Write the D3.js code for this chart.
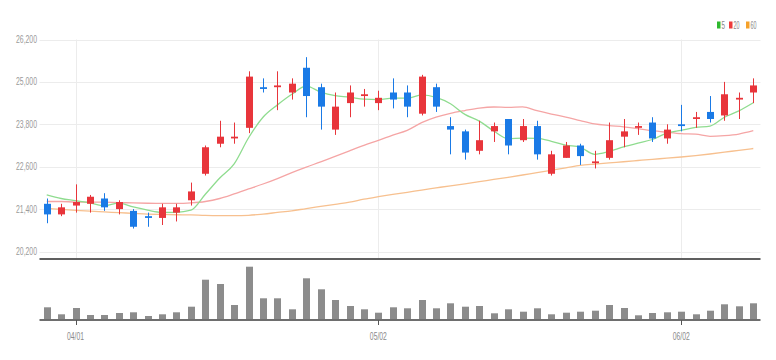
<!DOCTYPE html>
<html>
<head>
<meta charset="utf-8">
<script src="https://cdn.jsdelivr.net/npm/d3@7/dist/d3.min.js"></script>
<style>
  html, body { margin: 0; padding: 0; background: #fff; }
  svg { display: block; font-family: "Liberation Sans", Arial, sans-serif; }
</style>
</head>
<body>
<svg id="chart" width="776" height="360"></svg>
<script>
const dates = ["03/30","03/31","04/01","04/04","04/05","04/06","04/07","04/08","04/11","04/12",
  "04/13","04/14","04/15","04/18","04/19","04/20","04/21","04/22","04/25","04/26",
  "04/27","04/28","04/29","05/02","05/03","05/04","05/06","05/09","05/10","05/11",
  "05/12","05/13","05/16","05/17","05/18","05/19","05/20","05/23","05/24","05/25",
  "05/26","05/27","05/30","05/31","06/02","06/03","06/07","06/08","06/09","06/10"];
const opens = [21550,21250,21500,21550,21700,21400,21350,21200,21150,21300,
  21650,22400,23250,23400,23700,24850,24850,24700,25400,24850,
  23650,24400,24600,24400,24700,24700,24100,24850,23750,23600,
  23050,23600,23950,23350,23750,22400,22850,23200,22700,22850,
  23450,23700,23850,23400,23800,23950,24150,24050,24500,24700];
const highs = [21700,21550,22100,21800,21850,21650,21400,21300,21550,21550,
  22150,23200,23900,23850,25300,25100,25300,25100,25700,24950,
  24700,24900,24800,24750,25100,24900,25200,24950,24000,23650,
  23900,23850,23950,23950,23900,23050,23300,23250,23050,23850,
  23950,23850,24000,23800,24350,24150,24600,25000,24700,25100];
const lows = [21000,21200,21300,21300,21350,21250,20850,20900,20950,21050,
  21500,22350,23150,23250,23550,24700,24200,24500,24000,23650,
  23500,24000,24300,24200,24250,24000,24050,24150,22950,22800,
  22950,23300,22950,23300,22800,22350,22850,22650,22550,22800,
  23150,23500,23300,23250,23600,23700,23850,23900,23950,24400];
const closes = [21250,21450,21600,21750,21450,21600,20900,21150,21450,21450,
  21900,23150,23450,23450,25150,24800,24900,24950,24600,24300,
  24300,24700,24650,24550,24500,24300,25150,24300,23650,23000,
  23350,23750,23200,23750,22950,22950,23200,22900,22750,23350,
  23600,23750,23400,23650,23750,24000,23950,24650,24550,24900];
const volumes = [127000,57000,120000,50000,50000,70000,77000,40000,57000,77000,
  133000,403000,360000,150000,533000,217000,217000,107000,417000,307000,
  200000,140000,107000,73000,127000,117000,200000,117000,167000,133000,
  140000,67000,107000,83000,117000,57000,73000,83000,93000,150000,
  120000,47000,70000,77000,83000,57000,93000,157000,137000,167000];
const ma5 = [21800,21700,21640,21575,21500,21570,21460,21370,21310,21310,
  21370,21820,22280,22680,23420,24000,24350,24650,24880,24710,
  24610,24570,24510,24500,24540,24540,24630,24560,24380,24080,
  23890,23610,23390,23410,23400,23320,23210,23150,22950,23030,
  23160,23270,23370,23550,23630,23710,23750,24000,24180,24410];
const ma20 = [21615,21615,21600,21600,21595,21585,21575,21565,21560,21560,
  21575,21615,21700,21830,21970,22110,22265,22435,22590,22735,
  22890,23050,23205,23345,23495,23630,23845,24000,24110,24190,
  24260,24290,24280,24295,24185,24090,24005,23905,23810,23765,
  23730,23680,23620,23575,23535,23520,23460,23480,23525,23620];
const ma60 = [21420,21395,21365,21340,21320,21300,21280,21260,21250,21240,
  21235,21220,21215,21215,21225,21260,21305,21350,21415,21475,
  21535,21595,21680,21750,21815,21875,21940,22000,22060,22115,
  22175,22240,22300,22365,22435,22500,22565,22635,22675,22710,
  22740,22775,22810,22840,22875,22915,22960,23010,23065,23115];
const yTicks = [20200, 21400, 22600, 23800, 25000, 26200];
const xTickLabels = ["04/01", "05/02", "06/02"];
const legendLabels = ["5", "20", "60"];

const W = 776, H = 360;
const left = 39.5, right = 760.5;
const svg = d3.select("#chart");
svg.append("rect").attr("width", W).attr("height", H).attr("fill", "#fff");

const x = d3.scaleBand().domain(dates).range([left, right]).padding(0);
const cx = d => x(d) + x.bandwidth() / 2;
const y = d3.scaleLinear().domain([20200, 26200]).range([251.5, 39.5]);
const yv = d3.scaleLinear().domain([0, 600000]).range([320, 260]);

const colUp = "#e8353b", colDown = "#1a7ae6";

// horizontal grid
const gGrid = svg.append("g");
gGrid.selectAll("line.h").data(yTicks).enter().append("line")
  .attr("x1", left).attr("x2", right)
  .attr("y1", d => Math.round(y(d)) + 0.5).attr("y2", d => Math.round(y(d)) + 0.5)
  .attr("stroke", "#ececec").attr("stroke-width", 1);
// vertical grid at labelled dates
gGrid.selectAll("line.v").data(xTickLabels).enter().append("line")
  .attr("x1", d => Math.round(cx(d)) + 0.5).attr("x2", d => Math.round(cx(d)) + 0.5)
  .attr("y1", y(26200)).attr("y2", 258)
  .attr("stroke", "#ececec").attr("stroke-width", 1);

// y labels
svg.append("g").selectAll("text").data(yTicks).enter().append("text")
  .attr("x", 37).attr("y", d => y(d) + 3.5)
  .attr("text-anchor", "end")
  .attr("font-size", 11).attr("fill", "#9a9a9a")
  .attr("textLength", 21).attr("lengthAdjust", "spacingAndGlyphs")
  .text(d => d3.format(",")(d));

// MA lines
const line = arr => d3.line().x((d, i) => cx(dates[i])).y(d => y(d)).curve(d3.curveMonotoneX)(arr);
svg.append("path").attr("d", line(ma60)).attr("fill", "none").attr("stroke", "#f7c08f").attr("stroke-width", 1.3);
svg.append("path").attr("d", line(ma20)).attr("fill", "none").attr("stroke", "#f5a5a5").attr("stroke-width", 1.3);
svg.append("path").attr("d", line(ma5)).attr("fill", "none").attr("stroke", "#8fdc8f").attr("stroke-width", 1.3);

// candles
const idx = d3.range(dates.length);
const gC = svg.append("g");
const color = i => closes[i] >= opens[i] ? colUp : colDown;
gC.selectAll("line.wick").data(idx).enter().append("line")
  .attr("x1", i => Math.round(cx(dates[i])) + 0.5).attr("x2", i => Math.round(cx(dates[i])) + 0.5)
  .attr("y1", i => y(highs[i])).attr("y2", i => y(lows[i]))
  .attr("stroke", color).attr("stroke-width", 1);
gC.selectAll("rect.body").data(idx).enter().append("rect")
  .attr("x", i => Math.round(cx(dates[i])) + 0.5 - 3.5)
  .attr("width", 7)
  .attr("y", i => y(Math.max(opens[i], closes[i])))
  .attr("height", i => Math.max(1.5, Math.abs(y(opens[i]) - y(closes[i]))))
  .attr("fill", color);

// separator line
svg.append("line").attr("x1", left).attr("x2", right).attr("y1", 259).attr("y2", 259)
  .attr("stroke", "#2a2a2a").attr("stroke-width", 1.6);

// volume bars
svg.append("g").selectAll("rect").data(idx).enter().append("rect")
  .attr("x", i => Math.round(cx(dates[i])) + 0.5 - 3.5)
  .attr("width", 7)
  .attr("y", i => yv(volumes[i]))
  .attr("height", i => yv(0) - yv(volumes[i]))
  .attr("fill", "#8c8c8c");
svg.append("line").attr("x1", left).attr("x2", right).attr("y1", 320).attr("y2", 320)
  .attr("stroke", "#6e6e6e").attr("stroke-width", 2);

// x ticks & labels
const gX = svg.append("g");
gX.selectAll("line").data(xTickLabels).enter().append("line")
  .attr("x1", d => Math.round(cx(d)) + 0.5).attr("x2", d => Math.round(cx(d)) + 0.5)
  .attr("y1", 320).attr("y2", 325).attr("stroke", "#555").attr("stroke-width", 1);
gX.selectAll("text").data(xTickLabels).enter().append("text")
  .attr("x", d => cx(d)).attr("y", 340)
  .attr("text-anchor", "middle").attr("font-size", 11).attr("fill", "#8a8a8a")
  .attr("textLength", 17).attr("lengthAdjust", "spacingAndGlyphs")
  .text(d => d);

// legend
const legendColors = ["#2fb92f", "#ee3b3b", "#f5a12a"];
const legendX = [717, 729, 746];
const legendW = [3.5, 6, 6];
const gL = svg.append("g");
legendLabels.forEach((t, i) => {
  gL.append("rect").attr("x", legendX[i]).attr("y", 21.5).attr("width", 3.5).attr("height", 7)
    .attr("fill", legendColors[i]);
  gL.append("text").attr("x", legendX[i] + 4.5).attr("y", 29)
    .attr("font-size", 10.5).attr("fill", "#888")
    .attr("textLength", legendW[i]).attr("lengthAdjust", "spacingAndGlyphs")
    .text(t);
});
</script>
</body>
</html>
